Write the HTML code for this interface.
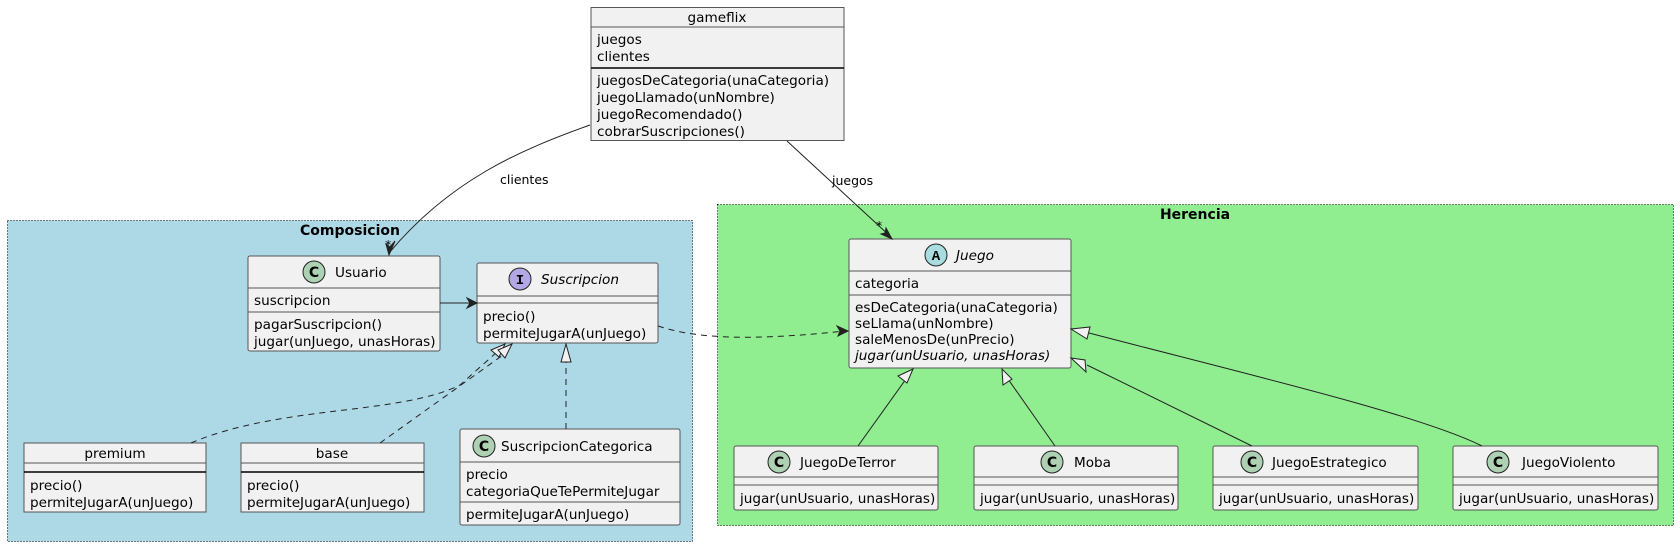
<!DOCTYPE html>
<html><head><meta charset="utf-8"><style>
html,body{margin:0;padding:0;background:#fff;}
svg{display:block;}
text{font-family:"DejaVu Sans","Liberation Sans",sans-serif;font-size:13.6px;fill:#000;}
.b{fill:#F1F1F1;stroke:#555;stroke-width:1;}
.l{stroke:#555;stroke-width:1;}
.k{stroke:#000;stroke-width:1.5;}
.e{stroke:#222;stroke-width:1;fill:none;}
.d{stroke:#222;stroke-width:1;fill:none;stroke-dasharray:6,5;}
.t{font-weight:bold;font-size:14px;}
.i{font-style:italic;}
.s{font-size:12.5px;}
.ic{font-weight:bold;font-size:14px;}
</style></head><body>
<svg width="1680" height="547" viewBox="0 0 1680 547" xmlns="http://www.w3.org/2000/svg">
<rect x="7.5" y="220.5" width="685" height="321" fill="#ADD8E6" stroke="#000" stroke-width="1" stroke-dasharray="1,2"/>
<text x="350" y="235" class="t" text-anchor="middle">Composicion</text>
<rect x="717.5" y="204.5" width="956" height="321" fill="#90EE90" stroke="#000" stroke-width="1" stroke-dasharray="1,2"/>
<text x="1195" y="219" class="t" text-anchor="middle">Herencia</text>

<rect x="591" y="7.5" width="253" height="133" class="b"/>
<line x1="591" y1="27" x2="844" y2="27" class="l"/>
<line x1="591" y1="68" x2="844" y2="68" class="k"/>
<text x="717" y="22" text-anchor="middle">gameflix</text>
<text x="597" y="44">juegos</text>
<text x="597" y="61">clientes</text>
<text x="597" y="85">juegosDeCategoria(unaCategoria)</text>
<text x="597" y="102">juegoLlamado(unNombre)</text>
<text x="597" y="119">juegoRecomendado()</text>
<text x="597" y="136">cobrarSuscripciones()</text>

<rect x="248" y="256" width="192" height="95" rx="2" class="b"/>
<line x1="248" y1="288" x2="440" y2="288" class="l"/>
<line x1="248" y1="312" x2="440" y2="312" class="l"/>
<circle cx="314" cy="272" r="11" fill="#ADD1B2" stroke="#222"/>
<text x="314" y="277" text-anchor="middle" class="ic">C</text>
<text x="335" y="277">Usuario</text>
<text x="254" y="305">suscripcion</text>
<text x="254" y="329">pagarSuscripcion()</text>
<text x="254" y="346">jugar(unJuego, unasHoras)</text>

<rect x="477" y="263" width="181" height="80" rx="2" class="b"/>
<line x1="477" y1="296" x2="658" y2="296" class="l"/>
<line x1="477" y1="303" x2="658" y2="303" class="l"/>
<circle cx="520" cy="279" r="11" fill="#B4A7E5" stroke="#222"/>
<text x="520" y="284" text-anchor="middle" class="ic" style="font-family:'Liberation Mono',monospace">I</text>
<text x="541" y="284" class="i">Suscripcion</text>
<text x="483" y="321">precio()</text>
<text x="483" y="338">permiteJugarA(unJuego)</text>

<rect x="24" y="443" width="182" height="69" class="b"/>
<line x1="24" y1="463" x2="206" y2="463" class="l"/>
<line x1="24" y1="472" x2="206" y2="472" class="k"/>
<text x="115" y="458" text-anchor="middle">premium</text>
<text x="30" y="490">precio()</text>
<text x="30" y="507">permiteJugarA(unJuego)</text>

<rect x="241" y="443" width="183" height="69" class="b"/>
<line x1="241" y1="463" x2="424" y2="463" class="l"/>
<line x1="241" y1="472" x2="424" y2="472" class="k"/>
<text x="332" y="458" text-anchor="middle">base</text>
<text x="247" y="490">precio()</text>
<text x="247" y="507">permiteJugarA(unJuego)</text>

<rect x="460" y="429" width="220" height="96" rx="2" class="b"/>
<line x1="460" y1="462" x2="680" y2="462" class="l"/>
<line x1="460" y1="502" x2="680" y2="502" class="l"/>
<circle cx="484" cy="446" r="11" fill="#ADD1B2" stroke="#222"/>
<text x="484" y="451" text-anchor="middle" class="ic">C</text>
<text x="501" y="451">SuscripcionCategorica</text>
<text x="466" y="479">precio</text>
<text x="466" y="496">categoriaQueTePermiteJugar</text>
<text x="466" y="519">permiteJugarA(unJuego)</text>

<rect x="849" y="239" width="222" height="129" rx="2" class="b"/>
<line x1="849" y1="271" x2="1071" y2="271" class="l"/>
<line x1="849" y1="295" x2="1071" y2="295" class="l"/>
<circle cx="936" cy="255" r="11" fill="#A9DCDF" stroke="#222"/>
<text x="936" y="260" text-anchor="middle" class="ic" style="font-family:'Liberation Mono',monospace">A</text>
<text x="956" y="260" class="i">Juego</text>
<text x="855" y="288">categoria</text>
<text x="855" y="312">esDeCategoria(unaCategoria)</text>
<text x="855" y="328">seLlama(unNombre)</text>
<text x="855" y="344">saleMenosDe(unPrecio)</text>
<text x="855" y="360" class="i">jugar(unUsuario, unasHoras)</text>

<g>
<rect x="734" y="446" width="204" height="64" rx="2" class="b"/>
<line x1="734" y1="477" x2="938" y2="477" class="l"/><line x1="734" y1="485" x2="938" y2="485" class="l"/>
<circle cx="779" cy="462" r="11" fill="#ADD1B2" stroke="#222"/>
<text x="779" y="467" text-anchor="middle" class="ic">C</text>
<text x="800" y="467">JuegoDeTerror</text>
<text x="740" y="503">jugar(unUsuario, unasHoras)</text>
</g>
<g>
<rect x="974" y="446" width="204" height="64" rx="2" class="b"/>
<line x1="974" y1="477" x2="1178" y2="477" class="l"/><line x1="974" y1="485" x2="1178" y2="485" class="l"/>
<circle cx="1052" cy="462" r="11" fill="#ADD1B2" stroke="#222"/>
<text x="1052" y="467" text-anchor="middle" class="ic">C</text>
<text x="1074" y="467">Moba</text>
<text x="980" y="503">jugar(unUsuario, unasHoras)</text>
</g>
<g>
<rect x="1213" y="446" width="205" height="64" rx="2" class="b"/>
<line x1="1213" y1="477" x2="1418" y2="477" class="l"/><line x1="1213" y1="485" x2="1418" y2="485" class="l"/>
<circle cx="1252" cy="462" r="11" fill="#ADD1B2" stroke="#222"/>
<text x="1252" y="467" text-anchor="middle" class="ic">C</text>
<text x="1272" y="467">JuegoEstrategico</text>
<text x="1219" y="503">jugar(unUsuario, unasHoras)</text>
</g>
<g>
<rect x="1453" y="446" width="205" height="64" rx="2" class="b"/>
<line x1="1453" y1="477" x2="1658" y2="477" class="l"/><line x1="1453" y1="485" x2="1658" y2="485" class="l"/>
<circle cx="1498" cy="462" r="11" fill="#ADD1B2" stroke="#222"/>
<text x="1498" y="467" text-anchor="middle" class="ic">C</text>
<text x="1522" y="467">JuegoViolento</text>
<text x="1459" y="503">jugar(unUsuario, unasHoras)</text>
</g>

<path d="M590,125 C520,150 450,180 389,253" class="e"/>
<path d="M389,255 L386,244 L390,247 L395,241 Z" fill="#222" stroke="#222"/>
<text x="500" y="184" class="s">clientes</text>
<text x="385" y="249" class="s">*</text>
<path d="M787,141 L891,237" class="e"/>
<path d="M892,239 L881,234 L885,233 L886,228 Z" fill="#222" stroke="#222"/>
<text x="832" y="185" class="s">juegos</text>
<text x="876" y="230" class="s">*</text>

<line x1="440" y1="303" x2="475" y2="303" class="e"/>
<path d="M477,303 L467,298 L470,303 L467,308 Z" fill="#222" stroke="#222"/>

<path d="M658,326 C700,340 760,340 845,331" class="d"/>
<path d="M848,331 L837,326 L840,331 L838,336 Z" fill="#222" stroke="#222"/>

<path d="M191,443 C280,405 400,415 460,385 L497,352" class="d"/>
<path d="M505,344 L491,350 L499,357 Z" fill="#F1F1F1" stroke="#222"/>
<path d="M380,443 L503,355" class="d"/>
<path d="M512,344 L498,350 L505,358 Z" fill="#F1F1F1" stroke="#222"/>
<path d="M566,429 L566,362" class="d"/>
<path d="M566,344 L561,362 L571,362 Z" fill="#F1F1F1" stroke="#222"/>

<path d="M858,446 L906,379" class="e"/>
<path d="M913,369 L898,376 L907,383 Z" fill="#F1F1F1" stroke="#222"/>
<path d="M1055,446 L1008,379" class="e"/>
<path d="M1002,369 L1003,385 L1012,379 Z" fill="#F1F1F1" stroke="#222"/>
<path d="M1252,446 L1087,365" class="e"/>
<path d="M1071,358 L1085,360 L1086,372 Z" fill="#F1F1F1" stroke="#222"/>
<path d="M1482,446 C1420,415 1250,375 1089,333" class="e"/>
<path d="M1071,329 L1090,327 L1087,339 Z" fill="#F1F1F1" stroke="#222"/>
</svg>
</body></html>
